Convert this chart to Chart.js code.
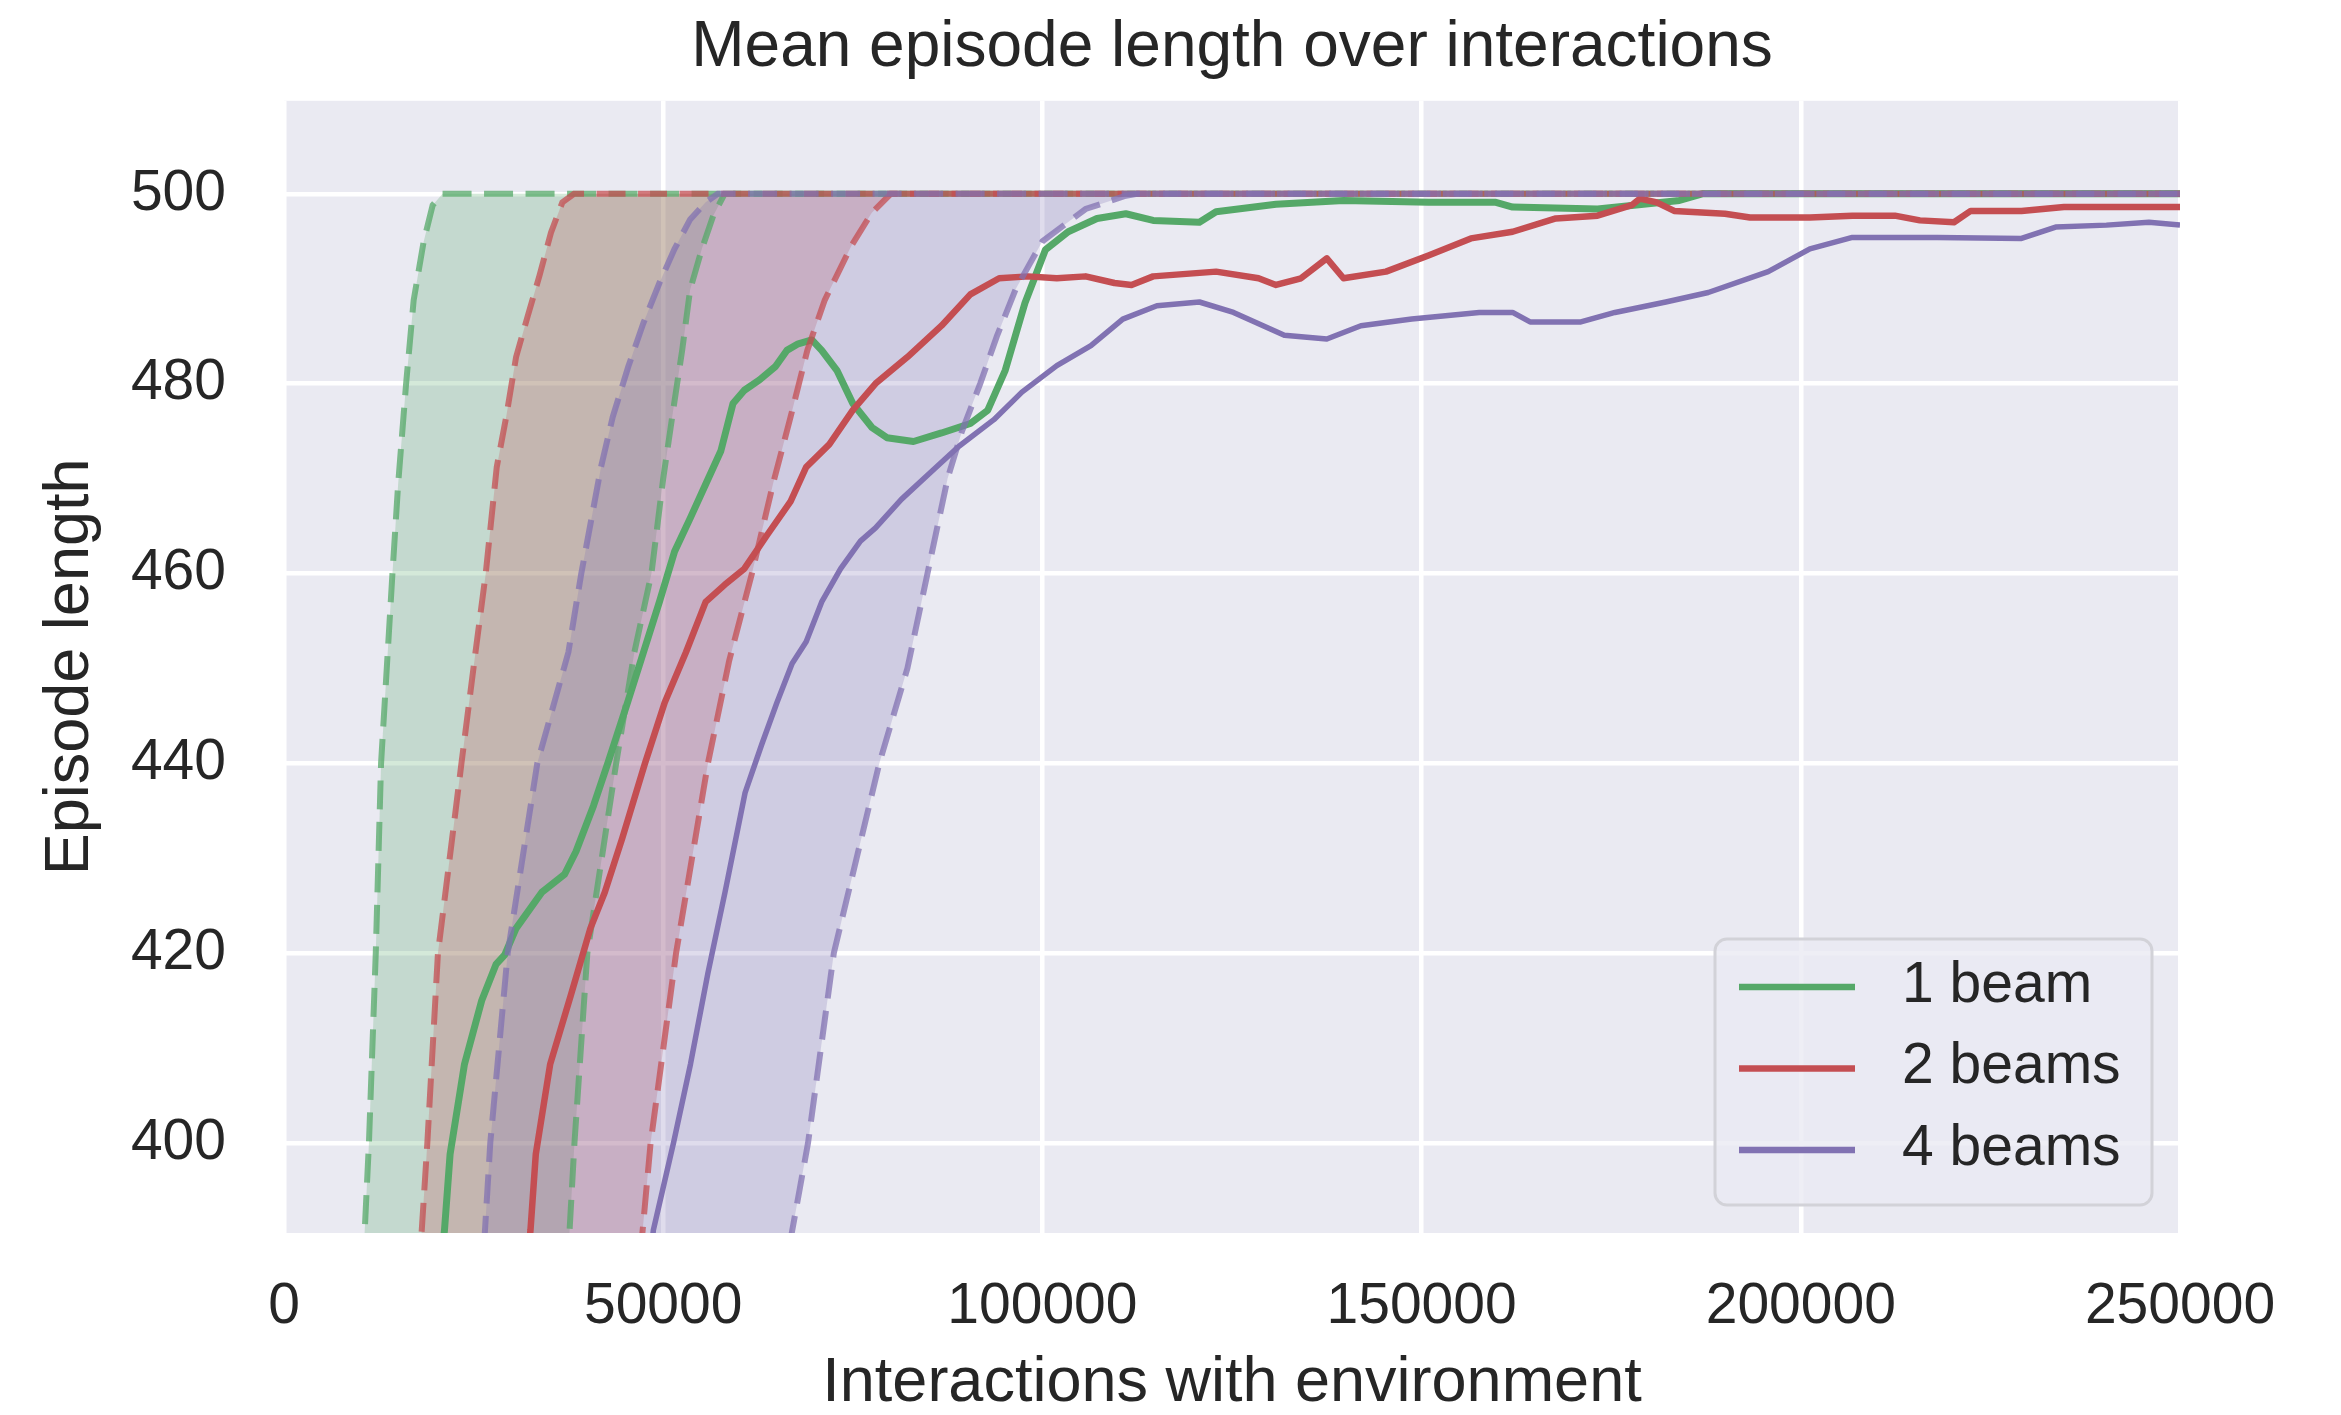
<!DOCTYPE html>
<html>
<head>
<meta charset="utf-8">
<script src="https://cdn.jsdelivr.net/npm/chart.js@4.4.1/dist/chart.umd.min.js"></script>
<style>
  html, body { margin: 0; padding: 0; background: #ffffff; }
  #wrap { width: 2341px; height: 1415px; }
</style>
</head>
<body>
<div id="wrap"><canvas id="episodeChart" width="2341" height="1415"></canvas></div>
<script>
// tick values / labels
const xTicks = [0, 50000, 100000, 150000, 200000, 250000]
const xTickLabels = ['0', '50000', '100000', '150000', '200000', '250000']
const yTicks = [400, 420, 440, 460, 480, 500]
const yTickLabels = ['400', '420', '440', '460', '480', '500']

const seriesLabels = ['1 beam', '2 beams', '4 beams']

// 1 beam: mean and band edges
const beam1X = [20400, 21160, 21900, 23800, 26070, 27950, 29100, 30600, 34000, 37000, 38500, 40800, 42700, 45300, 47400, 49500, 51500, 53550, 55600, 57600, 59200, 60700, 62700, 64800, 66300, 67800, 69600, 70900, 72900, 75000, 77500, 79500, 83000, 86700, 90500, 92800, 95100, 97700, 100400, 103400, 107200, 111000, 114600, 120700, 122900, 130800, 139700, 150900, 159800, 162000, 173200, 178000, 184000, 187000, 250000]
const beam1Y = [385, 390.8, 398.8, 408.3, 415, 418.8, 419.8, 422.6, 426.4, 428.3, 430.7, 435.5, 440, 446.4, 451.7, 457, 462.3, 465.8, 469.4, 472.9, 477.9, 479.3, 480.4, 481.8, 483.5, 484.2, 484.6, 483.5, 481.4, 477.9, 475.4, 474.3, 473.9, 474.8, 475.8, 477.2, 481.4, 488.5, 494.1, 496.0, 497.4, 497.9, 497.2, 497.0, 498.1, 498.9, 499.3, 499.1, 499.1, 498.6, 498.4, 498.8, 499.3, 500, 500]
const beam1HiX = [0, 9600, 10600, 11200, 12100, 12800, 14300, 15050, 16100, 17100, 18400, 19600, 20900, 250000]
const beam1HiY = [300, 380, 390, 400, 420, 440, 460, 469.4, 480, 488.8, 494.9, 498.8, 500, 500]
const beam1LoX = [0, 36800, 37600, 38300, 40000, 43800, 46200, 48450, 50000, 51500, 52500, 53550, 55100, 56600, 58100, 250000]
const beam1LoY = [300, 380, 390, 400, 420, 440, 451.7, 460, 470, 478.2, 483.5, 489.9, 494.2, 497.7, 500, 500]

// 2 beams
const beam2X = [31800, 32500, 33200, 35100, 37800, 40400, 42300, 44600, 47600, 50200, 53000, 55600, 58100, 60700, 63750, 66800, 68850, 71900, 75000, 78000, 82200, 86700, 90500, 94300, 98100, 101900, 105700, 109500, 111750, 114600, 122900, 128500, 130800, 134100, 137500, 139700, 145300, 150900, 156500, 162000, 167700, 173200, 177700, 178800, 181000, 183300, 190000, 193300, 201200, 206800, 212400, 215700, 220200, 222400, 229100, 234700, 240300, 250000]
const beam2Y = [385, 390.8, 398.8, 408.3, 415.5, 422.6, 426.4, 432.1, 440, 446.4, 451.7, 457, 458.8, 460.5, 464.1, 467.6, 471.2, 473.6, 477.2, 480, 482.8, 486.1, 489.4, 491.1, 491.3, 491.1, 491.3, 490.6, 490.4, 491.3, 491.8, 491.1, 490.4, 491.1, 493.2, 491.1, 491.8, 493.5, 495.3, 496.0, 497.4, 497.7, 498.8, 499.5, 499.1, 498.2, 497.9, 497.5, 497.5, 497.7, 497.7, 497.2, 497.0, 498.2, 498.2, 498.6, 498.6, 498.6]
const beam2HiX = [0, 17200, 18100, 18900, 20300, 23400, 25250, 26600, 28050, 29300, 30600, 32130, 33660, 35200, 36700, 38250, 250000]
const beam2HiY = [300, 380, 390, 400, 420, 440, 451.7, 460, 471.2, 476.5, 482.8, 487.1, 491.3, 495.9, 499.1, 500, 500]
const beam2LoX = [0, 46000, 47200, 48340, 51700, 55900, 58700, 61700, 64500, 66800, 69000, 71300, 74800, 77500, 80000, 250000]
const beam2LoY = [300, 380, 390, 400, 420, 440, 450.8, 460, 469.5, 476.5, 483.5, 488.8, 494.5, 498, 500, 500]

// 4 beams
const beam4X = [48000, 48700, 51360, 53600, 55900, 58150, 60800, 63000, 65000, 67000, 68850, 70900, 73400, 76000, 78000, 81400, 85200, 89000, 93600, 97300, 101900, 106400, 110600, 115100, 120700, 125200, 131900, 137500, 142000, 148700, 157600, 162000, 164300, 171000, 175500, 182200, 187800, 195700, 201200, 206800, 218000, 229100, 233600, 240300, 245900, 250000]
const beam4Y = [385, 390.8, 400, 408.3, 417.9, 426.4, 436.9, 442, 446.4, 450.5, 452.8, 457, 460.5, 463.4, 464.8, 467.8, 470.6, 473.4, 476.2, 479.1, 481.9, 484, 486.8, 488.2, 488.6, 487.5, 485.1, 484.7, 486.1, 486.8, 487.5, 487.5, 486.5, 486.5, 487.5, 488.6, 489.6, 491.8, 494.2, 495.4, 495.4, 495.3, 496.5, 496.7, 497.0, 496.7]
const beam4HiX = [0, 25500, 26440, 27200, 29500, 33400, 37500, 39200, 41800, 43350, 45400, 47400, 49500, 51500, 53550, 55600, 57200, 250000]
const beam4HiY = [300, 380, 390, 400, 420, 440, 451.7, 460, 471.2, 476.5, 481.8, 486.4, 490.6, 494.2, 497.3, 499.1, 500, 500]
const beam4LoX = [0, 65500, 66840, 69100, 72500, 78500, 82200, 84850, 87500, 89400, 91800, 94000, 96500, 100000, 105700, 111000, 112500, 250000]
const beam4LoY = [300, 380, 390, 400, 420, 440, 450, 460, 470, 475, 480, 485, 490, 495, 498.4, 499.8, 500, 500]

const GREEN = '#55a868'
const RED = '#c44e52'
const PURPLE = '#8172b2'
const TEXT = '#262626'
const FONT = "'Liberation Sans', Arial, Helvetica, sans-serif"

const zip = (xs, ys) => xs.map((x, i) => ({ x: x, y: ys[i] }))

const rgba = (hex, a) => {
    const n = parseInt(hex.slice(1), 16)
    return `rgba(${n >> 16}, ${(n >> 8) & 255}, ${n & 255}, ${a})`
}

const meanLine = (label, xs, ys, color, width) => ({
    label: label,
    data: zip(xs, ys),
    borderColor: color,
    borderWidth: width,
    pointRadius: 0,
    tension: 0,
    fill: false,
    clip: 0,
    borderJoinStyle: 'round'
})

const edgeLine = (xs, ys, color, fillTarget) => ({
    label: '',
    data: zip(xs, ys),
    borderColor: rgba(color, 0.75),
    borderWidth: 6,
    borderDash: [29, 12.5],
    borderCapStyle: 'butt',
    pointRadius: 0,
    tension: 0,
    clip: 0,
    fill: fillTarget === undefined ? false : { target: fillTarget },
    backgroundColor: rgba(color, 0.25)
})

// index 0 is drawn last (on top)
const datasets = [
    edgeLine(beam4HiX, beam4HiY, PURPLE, 1),
    edgeLine(beam4LoX, beam4LoY, PURPLE),
    meanLine(seriesLabels[2], beam4X, beam4Y, PURPLE, 5.5),
    edgeLine(beam2HiX, beam2HiY, RED, 4),
    edgeLine(beam2LoX, beam2LoY, RED),
    meanLine(seriesLabels[1], beam2X, beam2Y, RED, 6.5),
    edgeLine(beam1HiX, beam1HiY, GREEN, 7),
    edgeLine(beam1LoX, beam1LoY, GREEN),
    meanLine(seriesLabels[0], beam1X, beam1Y, GREEN, 7)
]

const plotBackground = {
    id: 'plotBackground',
    beforeDraw(chart) {
        const { ctx, chartArea: a } = chart
        ctx.save()
        ctx.fillStyle = '#ffffff'
        ctx.fillRect(0, 0, chart.width, chart.height)
        ctx.fillStyle = '#eaeaf2'
        ctx.fillRect(a.left, a.top, a.right - a.left, a.bottom - a.top)
        ctx.restore()
    }
}

// matplotlib-like framed legend in the lower right corner
const boxLegend = {
    id: 'boxLegend',
    afterDatasetsDraw(chart) {
        const { ctx, chartArea: a } = chart
        const items = seriesLabels.map(l => chart.data.datasets.find(d => d.label === l))
        const w = 437, h = 266, gap = 28, r = 12
        const x0 = a.right - gap - w
        const y0 = a.bottom - gap - h
        ctx.save()
        ctx.beginPath()
        ctx.moveTo(x0 + r, y0)
        ctx.lineTo(x0 + w - r, y0)
        ctx.arcTo(x0 + w, y0, x0 + w, y0 + r, r)
        ctx.lineTo(x0 + w, y0 + h - r)
        ctx.arcTo(x0 + w, y0 + h, x0 + w - r, y0 + h, r)
        ctx.lineTo(x0 + r, y0 + h)
        ctx.arcTo(x0, y0 + h, x0, y0 + h - r, r)
        ctx.lineTo(x0, y0 + r)
        ctx.arcTo(x0, y0, x0 + r, y0, r)
        ctx.closePath()
        ctx.fillStyle = 'rgba(234, 234, 242, 0.8)'
        ctx.fill()
        ctx.lineWidth = 3
        ctx.strokeStyle = '#d2d2d8'
        ctx.stroke()

        ctx.font = `57px ${FONT}`
        ctx.textBaseline = 'middle'
        ctx.textAlign = 'left'
        items.forEach((d, i) => {
            const y = y0 + 48 + i * 81.5
            ctx.beginPath()
            ctx.moveTo(x0 + 24, y)
            ctx.lineTo(x0 + 140, y)
            ctx.lineWidth = 6.5
            ctx.strokeStyle = d.borderColor
            ctx.stroke()
            ctx.fillStyle = TEXT
            ctx.fillText(d.label, x0 + 187, y - 1)
        })
        ctx.restore()
    }
}

new Chart(document.getElementById('episodeChart'), {
    type: 'line',
    data: { datasets: datasets },
    options: {
        responsive: false,
        animation: false,
        devicePixelRatio: 1,
        layout: { padding: { left: 0, right: 161, top: 0, bottom: 0 } },
        scales: {
            x: {
                type: 'linear',
                min: 0,
                max: 250000,
                afterBuildTicks: s => { s.ticks = xTicks.map(v => ({ value: v })) },
                afterFit: s => { s.height = 182 },
                border: { display: false },
                grid: { color: '#ffffff', lineWidth: 4.5, drawTicks: false },
                ticks: {
                    padding: 40,
                    color: TEXT,
                    maxRotation: 0,
                    autoSkip: false,
                    font: { family: FONT, size: 57 },
                    callback: (v, i) => xTickLabels[i]
                },
                title: {
                    display: true,
                    text: 'Interactions with environment',
                    color: TEXT,
                    font: { family: FONT, size: 63, lineHeight: 0.9 },
                    padding: { top: 0, bottom: 3 }
                }
            },
            y: {
                min: 390.5,
                max: 509.8,
                afterBuildTicks: s => { s.ticks = yTicks.map(v => ({ value: v })) },
                afterFit: s => { s.width = 284 },
                border: { display: false },
                grid: { color: '#ffffff', lineWidth: 4.5, drawTicks: false },
                ticks: {
                    padding: 58,
                    color: TEXT,
                    font: { family: FONT, size: 57 },
                    callback: (v, i) => yTickLabels[i]
                },
                title: {
                    display: true,
                    text: 'Episode length',
                    color: TEXT,
                    font: { family: FONT, size: 63, lineHeight: 1.2 },
                    padding: { top: 33, bottom: 0 }
                }
            }
        },
        plugins: {
            legend: { display: false },
            tooltip: { enabled: false },
            filler: { drawTime: 'beforeDatasetsDraw' },
            title: {
                display: true,
                text: 'Mean episode length over interactions',
                fullSize: false,
                color: TEXT,
                font: { family: FONT, size: 64, weight: 'normal', lineHeight: 1.2 },
                padding: { top: 10, bottom: 14 }
            }
        }
    },
    plugins: [plotBackground, boxLegend]
})
</script>
</body>
</html>
